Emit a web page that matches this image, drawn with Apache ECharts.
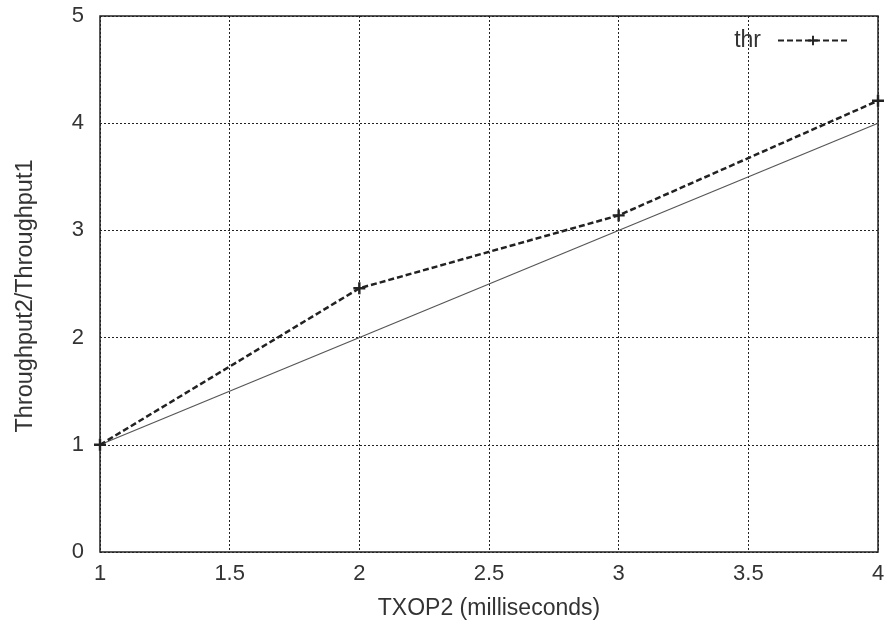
<!DOCTYPE html>
<html>
<head>
<meta charset="utf-8">
<script src="https://cdn.jsdelivr.net/npm/echarts@6/dist/echarts.min.js"></script>
<style>html,body{margin:0;padding:0;background:#fff;}#c{width:890px;height:631px;}</style>
</head>
<body>
<div id="c"></div>
<script>
const txop = [1, 2, 3, 4];
const thr = [1.0, 2.46, 3.14, 4.21];
const refX = [1, 4];
const refY = [1, 4];
const xTicks = [1, 1.5, 2, 2.5, 3, 3.5, 4];
const yTicks = [0, 1, 2, 3, 4, 5];
const yName = 'Throughput2/Throughput1';

const font = 'Liberation Sans';
const chart = echarts.init(document.getElementById('c'), null, {renderer: 'canvas'});
const plus = 'path://M4,0h2v4h4v2h-4v4h-2v-4h-4v-2h4z';
chart.setOption({
  animation: false,
  backgroundColor: '#fff',
  textStyle: {fontFamily: font},
  grid: {left: 100, right: 12, top: 16, bottom: 79, show: true, borderColor: '#222', borderWidth: 1.5, backgroundColor: 'transparent'},
  legend: {
    data: ['thr'], right: 36, top: 24, align: 'right',
    itemWidth: 70, itemHeight: 12, itemGap: 16,
    textStyle: {fontFamily: font, fontSize: 23, color: '#333', padding: [0, 12, 0, 0]}
  },
  graphic: [{
    type: 'text', x: 26, y: 296, rotation: Math.PI / 2,
    style: {text: yName, fontFamily: font, fontSize: 23.5, fill: '#333', align: 'center', verticalAlign: 'middle'}
  }],
  xAxis: {
    type: 'value', min: 1, max: 4, interval: 0.5,
    name: 'TXOP2 (milliseconds)', nameLocation: 'middle', nameGap: 45,
    nameTextStyle: {fontFamily: font, fontSize: 23, color: '#333'},
    axisLine: {show: false},
    axisTick: {show: false},
    axisLabel: {fontFamily: font, fontSize: 22, color: '#333', margin: 11, formatter: v => xTicks.includes(v) ? String(v) : ''},
    splitLine: {show: true, lineStyle: {color: '#222', type: [2, 2], width: 1}}
  },
  yAxis: {
    type: 'value', min: 0, max: 5, interval: 1,
    axisLine: {show: false},
    axisTick: {show: false},
    axisLabel: {fontFamily: font, fontSize: 22, color: '#333', margin: 16, formatter: v => yTicks.includes(v) ? String(v) : ''},
    splitLine: {show: true, lineStyle: {color: '#222', type: [2, 2], width: 1}}
  },
  series: [
    {
      name: 'ref', type: 'line', data: refX.map((x, i) => [x, refY[i]]),
      showSymbol: false, symbol: 'none', lineStyle: {color: '#555', width: 1.2}, z: 2
    },
    {
      name: 'thr', type: 'line', data: txop.map((x, i) => [x, thr[i]]),
      symbol: plus, symbolSize: 12, showSymbol: true,
      itemStyle: {color: '#222'},
      lineStyle: {color: '#222', width: 2.5, type: [6, 3]}, z: 3
    }
  ]
});
</script>
</body>
</html>
